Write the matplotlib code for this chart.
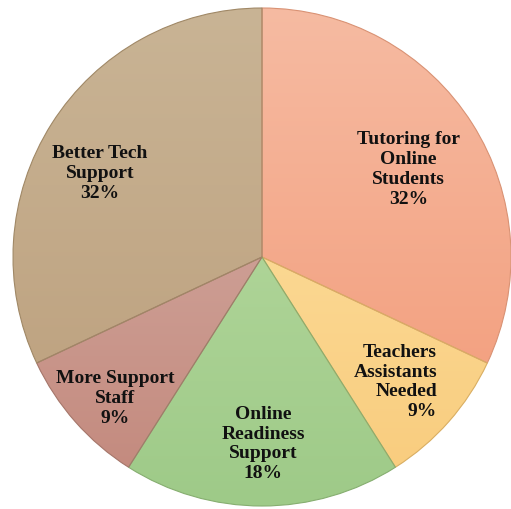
import numpy as np
import matplotlib
matplotlib.use("Agg")
import matplotlib.pyplot as plt
from matplotlib.colors import LinearSegmentedColormap

# survey shares, clockwise from 12 o'clock
names = ["Tutoring for\nOnline\nStudents", "Teachers\nAssistants\nNeeded",
         "Online\nReadiness\nSupport", "More Support\nStaff", "Better Tech\nSupport"]
shares = [32, 9, 18, 9, 32]

top_colors = ["#F6BBA2", "#FBD892", "#AED497", "#CD9E94", "#C9B495"]
bottom_colors = ["#F3A282", "#F9CD7F", "#9ECA88", "#C48B7F", "#BFA482"]
edge_colors = ["#D99274", "#D9AE62", "#86AE70", "#A5766A", "#A08866"]

# label anchors (in pie radius units) and alignment
label_pos = [(0.588, 0.354), (0.703, -0.498), (0.004, -0.747),
             (-0.590, -0.566), (-0.650, 0.341)]
label_align = ["center", "right", "center", "center", "center"]

fig = plt.figure(figsize=(5.11, 5.10), dpi=100)
ax = fig.add_axes([0, 0, 1, 1])
R = 249.0
cx, cy = 262.0, 252.0

wedges, _ = ax.pie(shares, startangle=90, counterclock=False, radius=1.0,
                   wedgeprops=dict(linewidth=0.8))
ax.set_aspect("equal")
ax.axis("off")

grad = np.linspace(0, 1, 256).reshape(-1, 1)
for w, c0, c1, ec in zip(wedges, top_colors, bottom_colors, edge_colors):
    w.set_facecolor("none")
    w.set_edgecolor(ec)
    w.set_zorder(3)
    ext = w.get_path().get_extents()
    cmap = LinearSegmentedColormap.from_list("g", [c0, c1])
    im = ax.imshow(grad, cmap=cmap, aspect="auto", origin="upper",
                   extent=[ext.x0, ext.x1, ext.y0, ext.y1], zorder=2)
    im.set_clip_path(w)

for name, val, (x, y), ha in zip(names, shares, label_pos, label_align):
    ax.text(x, y, f"{name}\n{val}%", ha=ha, va="center", multialignment=ha,
            fontsize=14, fontweight="bold", family="Liberation Serif",
            color="#111111", linespacing=1.23, zorder=5)

ax.set_xlim(-cx / R, (511 - cx) / R)
ax.set_ylim(-cy / R, (510 - cy) / R)
fig.savefig("out.png", dpi=100)
